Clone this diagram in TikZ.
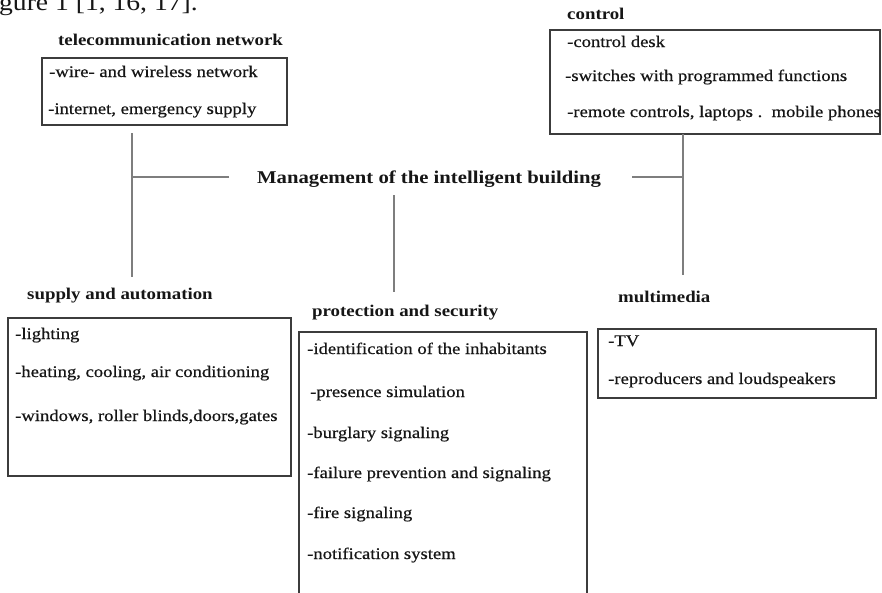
\documentclass[tikz,border=0pt]{standalone}
\usepackage{fontspec}
\setmainfont{Liberation Serif}[FakeStretch=1.15]
\newfontfamily\itemfont{Liberation Serif}[FakeStretch=1.15, FakeBold=0.5]
\definecolor{ink}{HTML}{161616}
\definecolor{frame}{HTML}{3C3C3C}
\definecolor{link}{HTML}{7E7E7E}
\begin{document}
\begin{tikzpicture}[x=1pt,y=-1pt,
  box/.style={draw=frame, line width=1.1pt, anchor=north west, inner sep=0pt, outer sep=0pt},
  itemtext/.style={anchor=base west, inner sep=0pt, text=ink, font=\itemfont\fontsize{16.2}{18}\selectfont},
  headtext/.style={anchor=base west, inner sep=0pt, text=ink, font=\fontsize{16.4}{18}\selectfont\bfseries},
  maintext/.style={anchor=base west, inner sep=0pt, text=ink, font=\fontsize{18}{20}\selectfont\bfseries},
  linkline/.style={draw=link, line width=2.8pt}]
\useasboundingbox (0,0) rectangle (882,592);
\clip (0,0) rectangle (882,592);
\fill[white] (0,0) rectangle (882,592);

% running text from the page above the figure
\node (caption) [anchor=base west, inner sep=0pt, text=ink, font=\fontsize{24}{26}\selectfont] at (-1,10) {gure 1 [1, 16, 17].};

% telecommunication network
\node (thead) [headtext] at (58,45) {telecommunication network};
\node (tbox) [box, minimum width=245pt, minimum height=67pt] at (42,58) {};
\node (t1) [itemtext] at (49,77) {-wire- and wireless network};
\node (t2) [itemtext] at (48,114) {-internet, emergency supply};

% control
\node (chead) [headtext] at (567,19) {control};
\node (cbox) [box, minimum width=330pt, minimum height=104pt] at (550,30) {};
\node (c1) [itemtext] at (567,47) {-control desk};
\node (c2) [itemtext] at (565,81) {-switches with programmed functions};
\node (c3) [itemtext] at (567,117) {-remote controls, laptops .\ \ mobile phones};

% central title
\node (main) [maintext] at (257,183) {Management of the intelligent building};

% supply and automation
\node (shead) [headtext] at (27,299) {supply and automation};
\node (sbox) [box, minimum width=283pt, minimum height=158pt] at (8,318) {};
\node (s1) [itemtext] at (15,339) {-lighting};
\node (s2) [itemtext] at (15,377) {-heating, cooling, air conditioning};
\node (s3) [itemtext] at (15,421) {-windows, roller blinds,doors,gates};

% protection and security
\node (phead) [headtext] at (312,316) {protection and security};
\node (pbox) [box, minimum width=288pt, minimum height=280pt] at (299,332) {};
\node (p1) [itemtext] at (307,354) {-identification of the inhabitants};
\node (p2) [itemtext] at (310,397) {-presence simulation};
\node (p3) [itemtext] at (307,438) {-burglary signaling};
\node (p4) [itemtext] at (307,478) {-failure prevention and signaling};
\node (p5) [itemtext] at (307,518) {-fire signaling};
\node (p6) [itemtext] at (307,559) {-notification system};

% multimedia
\node (mhead) [headtext] at (618,302) {multimedia};
\node (mbox) [box, minimum width=278pt, minimum height=69pt] at (598,329) {};
\node (m1) [itemtext] at (608,346) {-TV};
\node (m2) [itemtext] at (608,384) {-reproducers and loudspeakers};

% connector end points
\coordinate (lt) at (132,133);
\coordinate (lb) at (132,277);
\coordinate (lh) at (229,177);
\coordinate (rt) at (683,134);
\coordinate (rb) at (683,275);
\coordinate (rh) at (632,177);
\coordinate (mt) at (394,195);
\coordinate (mb) at (394,292);

\draw[linkline] (lt) -- (lb);
\draw[linkline] (lh) -- (lh -| lt);
\draw[linkline] (rt) -- (rb);
\draw[linkline] (rh) -- (rh -| rt);
\draw[linkline] (mt) -- (mb);
\end{tikzpicture}
\end{document}
